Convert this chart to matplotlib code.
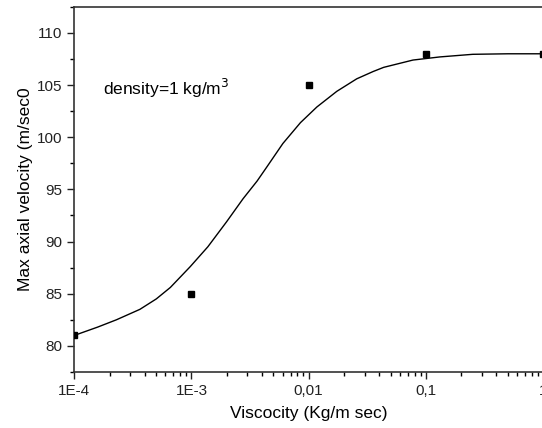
import matplotlib
matplotlib.use('Agg')
import matplotlib.pyplot as plt
import matplotlib.ticker as ticker
import numpy as np

plt.rcParams['font.family'] = ['Liberation Sans', 'DejaVu Sans']

# measured points
viscosity = [1e-4, 1e-3, 1e-2, 1e-1, 1.0]
max_velocity = [81.0, 85.0, 105.0, 108.0, 108.0]

# fitted curve (log10 of viscosity, velocity)
fit_logx = [-4.0, -3.80, -3.64, -3.44, -3.30, -3.18, -3.01, -2.86, -2.70,
            -2.56, -2.44, -2.36, -2.22, -2.07, -1.93, -1.76, -1.59, -1.45,
            -1.36, -1.11, -0.88, -0.6, -0.3, 0.0]
fit_y = [81.0, 81.8, 82.5, 83.5, 84.5, 85.6, 87.6, 89.5, 91.9,
         94.1, 95.8, 97.1, 99.4, 101.4, 102.9, 104.4, 105.6, 106.3,
         106.7, 107.4, 107.7, 107.95, 108.0, 108.0]

xtick_vals = [1e-4, 1e-3, 1e-2, 1e-1, 1.0]
xtick_labels = ['1E-4', '1E-3', '0,01', '0,1', '1']
ytick_vals = [80, 85, 90, 95, 100, 105, 110]

fig = plt.figure(figsize=(5.42, 4.28), dpi=100)
ax = fig.add_axes([0.137, 0.131, 0.865, 0.853])

ax.plot(10 ** np.array(fit_logx), fit_y, color='black', lw=1.0, zorder=2)
ax.plot(viscosity, max_velocity, 's', color='black', ms=5, zorder=3)

ax.set_xscale('log')
ax.set_xlim(1e-4, 1.0)
ax.set_ylim(77.5, 112.5)

ax.xaxis.set_major_locator(ticker.FixedLocator(xtick_vals))
ax.xaxis.set_major_formatter(ticker.FixedFormatter(xtick_labels))
ax.xaxis.set_minor_locator(ticker.LogLocator(base=10, subs=np.arange(2, 10)))
ax.xaxis.set_minor_formatter(ticker.NullFormatter())
ax.yaxis.set_major_locator(ticker.FixedLocator(ytick_vals))
ax.yaxis.set_minor_locator(ticker.MultipleLocator(2.5))

ax.tick_params(which='major', direction='out', length=5, width=1.0, labelsize=11, colors='#222222')
ax.tick_params(which='minor', direction='out', length=3, width=1.0)
for s in ax.spines.values():
    s.set_linewidth(1.2)
    s.set_color('#333333')

fig.text(103 / 542, 1 - 88 / 428, 'density=1 kg/m$^3$', fontsize=12.5,
         va='center', ha='left')

ax.set_xlabel('Viscocity (Kg/m sec)', fontsize=12.5, labelpad=6)
ax.set_ylabel('Max axial velocity (m/sec0', fontsize=12.5, labelpad=3)

fig.savefig('out.png', dpi=100)
